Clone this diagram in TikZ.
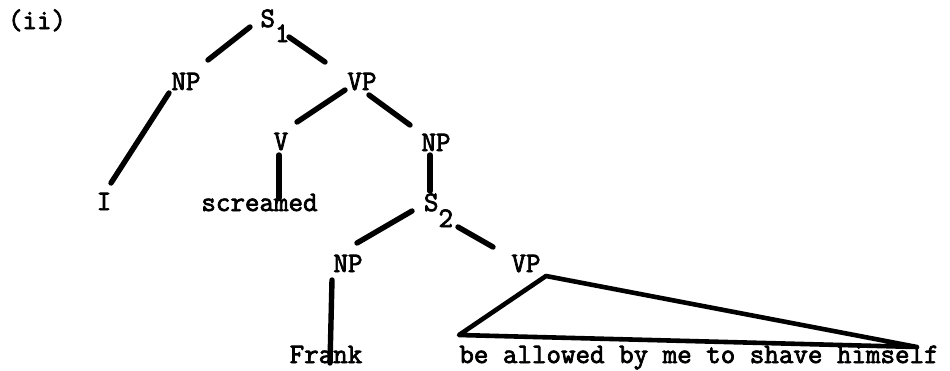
\documentclass[tikz,border=0pt]{standalone}
\usepackage{fontspec}
\setmonofont{Latin Modern Mono}[FakeBold=2.6]
\usetikzlibrary{calc}
\tikzset{
  lbl/.style={font=\ttfamily\fontsize{28.2}{30}\selectfont, inner sep=0pt, anchor=base},
  br/.style={line width=5.4pt, line cap=round, line join=round}
}
\begin{document}
\begin{tikzpicture}[x=1pt,y=-1pt]
\useasboundingbox (0,0) rectangle (950,370);
% nodes
\node[lbl] (ii) at (37,29) {(ii)};
\node[lbl] (S1) at (275,27) {S\raisebox{-15pt}{1}};
\node[lbl] (NPa) at (186,90) {NP};
\node[lbl] (VPa) at (362,90) {VP};
\node[lbl] (I) at (104,210) {I};
\node[lbl] (Va) at (281,150) {V};
\node[lbl] (NPb) at (436,151) {NP};
\node[lbl] (scr) at (259.5,211) {screamed};
\node[lbl] (S2) at (438.5,211) {S\raisebox{-16pt}{2}};
\node[lbl] (NPc) at (348,272) {NP};
\node[lbl] (VPc) at (526,272) {VP};
\node[lbl] (Frank) at (326,363) {Frank};
\node[lbl] (be) at (699,363) {be allowed by me to shave himself};
% branches
\draw[br] ($(S1.base)+(-25,0)$) -- ($(NPa.base)+(22,-30)$);
\draw[br] ($(S1.base)+(14,10)$) -- ($(VPa.base)+(-37,-28)$);
\draw[br] ($(NPa.base)+(-17,3)$) -- ($(I.base)+(7,-27)$);
\draw[br] ($(VPa.base)+(-17,0)$) -- ($(Va.base)+(16,-28)$);
\draw[br] ($(VPa.base)+(7,5)$) -- ($(NPb.base)+(-26,-26)$);
\draw[br] ($(Va.base)+(-2,5)$) -- ($(scr.base)+(19.5,-13)$);
\draw[br] ($(NPb.base)+(-6,4)$) -- ($(S2.base)+(-8.5,-20)$);
\draw[br] ($(S2.base)+(-26.5,0)$) -- ($(NPc.base)+(9,-29)$);
\draw[br] ($(S2.base)+(19.5,16)$) -- ($(VPc.base)+(-33,-25)$);
\draw[br] ($(NPc.base)+(-16,8)$) -- ($(Frank.base)+(4,0)$);
\draw[br, line width=4.6pt] ($(VPc.base)+(20,4)$) -- ($(be.base)+(-240,-28)$) -- ($(be.base)+(218,-16)$) -- cycle;
\end{tikzpicture}
\end{document}
